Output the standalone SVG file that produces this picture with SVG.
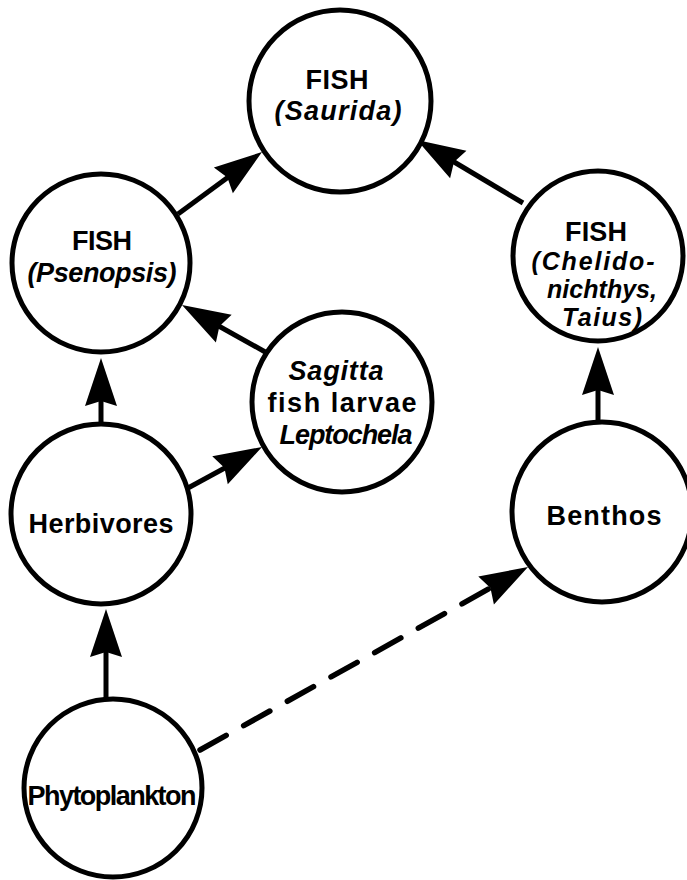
<svg xmlns="http://www.w3.org/2000/svg" xmlns:xlink="http://www.w3.org/1999/xlink" width="687" height="880" viewBox="0 0 687 880">
  <style>
    .node circle { fill: #fff; stroke: #000; stroke-width: 5; }
    .node text { font-family: "Liberation Sans", Arial, sans-serif; font-weight: bold; font-size: 27px; text-anchor: middle; fill: #000; }
    .node text.sp { font-style: italic; }
    .node text.sm { font-size: 25px; }
    .link { stroke: #000; stroke-width: 5; fill: none; }
    .dash { stroke-width: 5.5; stroke-dasharray: 30 20; stroke-linecap: round; }
  </style>
  <defs>
    <!-- arrowhead, tip at origin pointing along +x -->
    <path id="head" d="M0,0 L-48,-16 L-43,0 L-48,16 Z" fill="#000"/>
  </defs>
  <rect width="687" height="880" fill="#fff"/>

  <g id="connectors">
    <!-- Psenopsis -> Saurida -->
    <line class="link" x1="178" y1="214" x2="246" y2="164"/>
    <use xlink:href="#head" transform="translate(262,152) rotate(-36.4)"/>
    <!-- Chelidonichthys -> Saurida -->
    <line class="link" x1="523" y1="203" x2="434" y2="150"/>
    <use xlink:href="#head" transform="translate(417,140) rotate(-149.3)"/>
    <!-- Sagitta group -> Psenopsis -->
    <line class="link" x1="267" y1="353" x2="199" y2="315"/>
    <use xlink:href="#head" transform="translate(182,305) rotate(-150.5)"/>
    <!-- Herbivores -> Psenopsis -->
    <line class="link" x1="101" y1="424" x2="101" y2="378"/>
    <use xlink:href="#head" transform="translate(101,358) rotate(-90)"/>
    <!-- Herbivores -> Sagitta group -->
    <line class="link" x1="188" y1="488" x2="245" y2="457"/>
    <use xlink:href="#head" transform="translate(262,447) rotate(-29)"/>
    <!-- Benthos -> Chelidonichthys -->
    <line class="link" x1="598" y1="420" x2="598" y2="367"/>
    <use xlink:href="#head" transform="translate(598,347) rotate(-90)"/>
    <!-- Phytoplankton -> Herbivores -->
    <line class="link" x1="106" y1="698" x2="106" y2="629"/>
    <use xlink:href="#head" transform="translate(106,609) rotate(-90)"/>
    <!-- Phytoplankton -> Benthos (dashed) -->
    <line class="link dash" x1="200" y1="750" x2="510" y2="577"/>
    <use xlink:href="#head" transform="translate(528,567) rotate(-29.2)"/>
  </g>

  <g id="saurida" class="node">
    <circle cx="340" cy="101" r="91"/>
    <text x="337" y="89" textLength="63">FISH</text>
    <text class="sp" x="338" y="120" textLength="127">(Saurida)</text>
  </g>

  <g id="psenopsis" class="node">
    <circle cx="101" cy="263" r="89"/>
    <text x="102" y="250" textLength="60">FISH</text>
    <text class="sp" x="102" y="282" textLength="149">(Psenopsis)</text>
  </g>

  <g id="sagitta" class="node">
    <circle cx="342" cy="402" r="90"/>
    <text class="sp" x="336" y="380" textLength="95">Sagitta</text>
    <text x="342" y="412" textLength="149">fish larvae</text>
    <text class="sp" x="346" y="444" textLength="133">Leptochela</text>
  </g>

  <g id="chelidonichthys" class="node">
    <circle cx="598" cy="256" r="85"/>
    <text x="596" y="241" textLength="62">FISH</text>
    <text class="sp sm" x="593" y="270" textLength="123">(Chelido-</text>
    <text class="sp sm" x="602" y="298" textLength="110">nichthys,</text>
    <text class="sp sm" x="602" y="326" textLength="80">Taius)</text>
  </g>

  <g id="herbivores" class="node">
    <circle cx="101" cy="514" r="90"/>
    <text x="101" y="533" textLength="145">Herbivores</text>
  </g>

  <g id="benthos" class="node">
    <circle cx="602" cy="512" r="90"/>
    <text x="604" y="525" textLength="115">Benthos</text>
  </g>

  <g id="phytoplankton" class="node">
    <circle cx="113" cy="788" r="89"/>
    <text x="112" y="805" textLength="169">Phytoplankton</text>
  </g>
</svg>
